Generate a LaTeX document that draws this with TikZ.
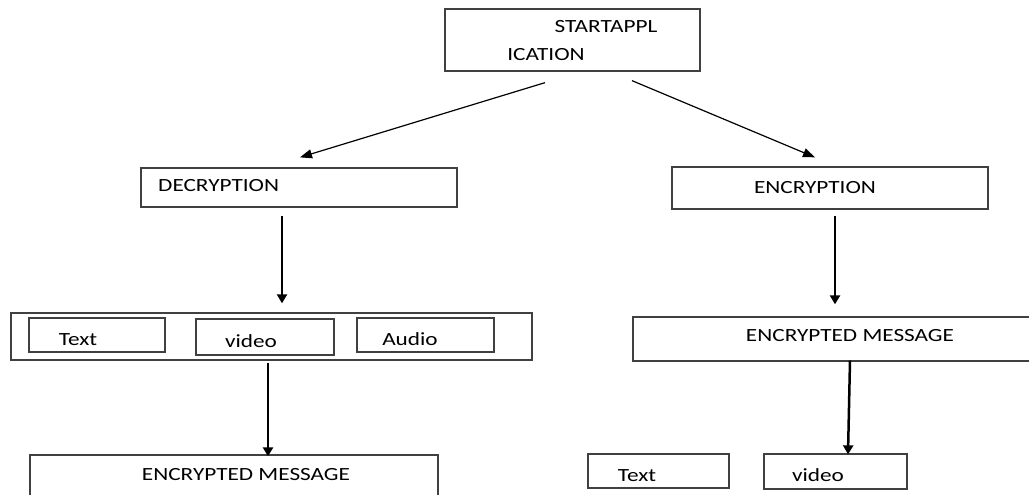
\documentclass[tikz,border=0pt]{standalone}
\usepackage{fontspec}
\setmainfont[FakeStretch=1.25]{Carlito}
\usetikzlibrary{arrows.meta}
\begin{document}
\begin{tikzpicture}[x=1pt,y=-1pt,
  box/.style={draw=black!75,line width=1.3pt,inner sep=0pt,fill=none},
  lbl/.style={inner sep=0pt,anchor=base,text=black,font=\fontsize{18.6}{22}\selectfont},
  darr/.style={line width=1.2pt,-{Triangle[length=12pt,width=9pt]}},
  varr/.style={line width=2.5pt,-{Triangle[length=9pt,width=10pt]}}]
\useasboundingbox (0,0) rectangle (1029,495);
\clip (0,0) rectangle (1029,495);
% boxes
\node[box,minimum width=255pt,minimum height=62pt] (start) at (572.5,40) {};
\node[box,minimum width=316pt,minimum height=39pt] (dec) at (299,187.5) {};
\node[box,minimum width=316pt,minimum height=42pt] (enc) at (830,188) {};
\node[box,minimum width=521pt,minimum height=47pt] (outer) at (271.5,336.5) {};
\node[box,minimum width=136pt,minimum height=34pt] (t1) at (97,335) {};
\node[box,minimum width=138pt,minimum height=36pt] (v1) at (265,337) {};
\node[box,minimum width=137pt,minimum height=34pt] (a1) at (425.5,335) {};
\node[box,minimum width=408pt,minimum height=45pt] (em1) at (234,477.5) {};
\node[box,minimum width=402pt,minimum height=44pt] (em2) at (834,339) {};
\node[box,minimum width=141pt,minimum height=34pt] (t2) at (658.5,471) {};
\node[box,minimum width=143pt,minimum height=35pt] (v2) at (835.5,471.5) {};
% labels
\node[lbl] (startA) at (606,33) {STARTAPPL};
\node[lbl] (startB) at (546,61) {ICATION};
\node[lbl,anchor=base west] (decl) at (158,191) {DECRYPTION};
\node[lbl] (encl) at (815,193) {ENCRYPTION};
\node[lbl] (t1l) at (78,345) {Text};
\node[lbl] (v1l) at (251,347) {video};
\node[lbl] (a1l) at (410,345) {Audio};
\node[lbl] (em1l) at (246,480) {ENCRYPTED MESSAGE};
\node[lbl] (em2l) at (850,341) {ENCRYPTED MESSAGE};
\node[lbl] (t2l) at (637,481) {Text};
\node[lbl] (v2l) at (818,481) {video};
% connectors
\draw[darr] ([shift={(-27.5,11)}]start.south) -- ([shift={(1,-10)}]dec.north);
\draw[darr] ([shift={(59.5,9)}]start.south) -- ([shift={(-15,-9)}]enc.north);
\draw[varr] ([shift={(-17,8)}]dec.south) -- ([shift={(10.5,-9)}]outer.north);
\draw[varr] ([shift={(-3.5,2)}]outer.south) -- ([shift={(34,2)}]em1.north);
\draw[varr] ([shift={(5,6)}]enc.south) -- ([shift={(1,-12)}]em2.north);
\draw[varr] ([shift={(16,-1)}]em2.south) -- ([shift={(12.5,1)}]v2.north);
\end{tikzpicture}
\end{document}
